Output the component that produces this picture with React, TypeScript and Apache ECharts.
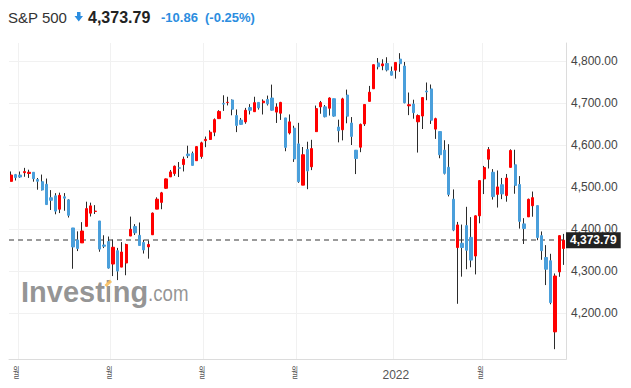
import React, { useEffect, useRef } from "react";
import * as echarts from "echarts";

const dates = [
  "2021-08-30","2021-08-31","2021-09-01","2021-09-02","2021-09-03","2021-09-07","2021-09-08","2021-09-09","2021-09-10","2021-09-13",
  "2021-09-14","2021-09-15","2021-09-16","2021-09-17","2021-09-20","2021-09-21","2021-09-22","2021-09-23","2021-09-24","2021-09-27",
  "2021-09-28","2021-09-29","2021-09-30","2021-10-01","2021-10-04","2021-10-05","2021-10-06","2021-10-07","2021-10-08","2021-10-11",
  "2021-10-12","2021-10-13","2021-10-14","2021-10-15","2021-10-18","2021-10-19","2021-10-20","2021-10-21","2021-10-22","2021-10-25",
  "2021-10-26","2021-10-27","2021-10-28","2021-10-29","2021-11-01","2021-11-02","2021-11-03","2021-11-04","2021-11-05","2021-11-08",
  "2021-11-09","2021-11-10","2021-11-11","2021-11-12","2021-11-15","2021-11-16","2021-11-17","2021-11-18","2021-11-19","2021-11-22",
  "2021-11-23","2021-11-24","2021-11-26","2021-11-29","2021-11-30","2021-12-01","2021-12-02","2021-12-03","2021-12-06","2021-12-07",
  "2021-12-08","2021-12-09","2021-12-10","2021-12-13","2021-12-14","2021-12-15","2021-12-16","2021-12-17","2021-12-20","2021-12-21",
  "2021-12-22","2021-12-23","2021-12-27","2021-12-28","2021-12-29","2021-12-30","2021-12-31","2022-01-03","2022-01-04","2022-01-05",
  "2022-01-06","2022-01-07","2022-01-10","2022-01-11","2022-01-12","2022-01-13","2022-01-14","2022-01-18","2022-01-19","2022-01-20",
  "2022-01-21","2022-01-24","2022-01-25","2022-01-26","2022-01-27","2022-01-28","2022-01-31","2022-02-01","2022-02-02","2022-02-03",
  "2022-02-04","2022-02-07","2022-02-08","2022-02-09","2022-02-10","2022-02-11","2022-02-14","2022-02-15","2022-02-16","2022-02-17",
  "2022-02-18","2022-02-22","2022-02-23","2022-02-24","2022-02-25","2022-02-28",
];

const opens = [
  4513.76,4529.75,4528.80,4534.48,4532.42,4535.38,4518.09,4513.02,4506.92,4474.81,
  4479.33,4447.49,4477.09,4469.74,4402.95,4374.45,4367.43,4406.75,4438.04,4442.12,
  4419.54,4362.41,4370.67,4317.16,4348.84,4309.87,4319.57,4383.73,4406.51,4385.44,
  4368.31,4358.01,4386.75,4447.69,4463.72,4497.34,4524.42,4532.24,4546.12,4553.69,
  4578.69,4580.22,4562.84,4572.87,4610.62,4613.34,4630.65,4662.93,4699.26,4701.48,
  4707.25,4670.26,4659.39,4655.24,4689.30,4679.42,4701.50,4700.72,4708.44,4712.00,
  4678.48,4675.78,4664.63,4628.75,4640.25,4602.82,4504.73,4589.49,4548.37,4631.97,
  4690.86,4691.00,4687.64,4710.30,4642.99,4636.46,4719.13,4652.50,4587.90,4594.96,
  4650.36,4703.96,4733.99,4795.49,4788.64,4794.23,4775.21,4778.14,4804.51,4787.99,
  4693.39,4697.66,4655.34,4669.14,4728.59,4733.56,4637.99,4632.24,4588.03,4547.35,
  4471.38,4356.32,4366.64,4408.43,4380.58,4336.19,4431.79,4519.57,4566.39,4535.41,
  4482.79,4505.75,4480.02,4547.00,4553.24,4506.27,4412.61,4429.28,4455.75,4456.06,
  4384.57,4332.74,4324.93,4155.77,4298.38,4354.17,
];

const closes = [
  4528.79,4522.68,4524.09,4536.95,4535.43,4520.03,4514.07,4493.28,4458.58,4468.73,
  4443.05,4480.70,4473.75,4432.99,4357.73,4354.19,4395.64,4448.98,4455.48,4443.11,
  4352.63,4359.46,4307.54,4357.04,4300.46,4345.72,4363.55,4399.76,4391.34,4361.19,
  4350.65,4363.80,4438.26,4471.37,4486.46,4519.63,4536.19,4549.78,4544.90,4566.48,
  4574.79,4551.68,4596.42,4605.38,4613.67,4630.65,4660.57,4680.06,4697.53,4701.70,
  4685.25,4646.71,4649.27,4682.85,4682.80,4700.90,4688.67,4704.54,4697.96,4682.94,
  4690.70,4701.46,4594.62,4655.27,4567.00,4513.04,4577.10,4538.43,4591.67,4686.75,
  4701.21,4667.45,4712.02,4668.97,4634.09,4709.85,4668.67,4620.64,4568.02,4649.23,
  4696.56,4725.79,4791.19,4786.35,4793.06,4778.73,4766.18,4796.56,4793.54,4700.58,
  4696.05,4677.03,4670.29,4713.07,4726.35,4659.03,4662.85,4577.11,4532.76,4482.73,
  4397.94,4410.13,4356.45,4349.93,4326.51,4431.85,4515.55,4546.54,4589.38,4477.44,
  4500.53,4483.87,4521.54,4587.18,4504.08,4418.64,4401.67,4471.07,4475.01,4380.26,
  4348.87,4304.76,4225.50,4288.70,4384.65,4373.79,
];

const lows = [
  4513.76,4515.80,4522.02,4524.66,4521.94,4513.00,4493.95,4492.07,4457.66,4445.70,
  4435.46,4438.37,4443.80,4427.76,4305.91,4347.96,4367.43,4406.75,4430.27,4436.19,
  4346.33,4355.08,4306.24,4288.52,4278.94,4309.87,4290.49,4383.73,4386.22,4360.59,
  4342.09,4329.92,4386.75,4447.69,4447.47,4496.41,4524.40,4526.89,4524.00,4537.36,
  4569.17,4551.66,4562.84,4567.59,4595.06,4613.34,4621.19,4662.59,4681.32,4694.39,
  4670.87,4630.86,4648.31,4650.77,4672.86,4679.42,4684.41,4672.78,4694.22,4682.17,
  4652.66,4659.89,4585.43,4625.26,4560.00,4510.27,4504.73,4495.12,4540.51,4631.97,
  4674.52,4665.98,4670.24,4667.60,4606.52,4611.22,4651.89,4600.22,4531.10,4583.16,
  4645.53,4703.96,4733.99,4780.04,4778.08,4775.33,4765.75,4758.17,4774.27,4699.44,
  4671.26,4662.74,4582.24,4638.27,4706.71,4650.29,4614.75,4568.70,4530.20,4477.95,
  4395.34,4222.62,4287.11,4304.80,4309.50,4292.46,4414.02,4483.53,4544.32,4470.39,
  4451.50,4471.47,4465.40,4547.00,4484.31,4401.41,4364.84,4429.28,4429.68,4373.81,
  4327.22,4267.11,4221.51,4114.65,4286.83,4315.12,
];

const highs = [
  4537.36,4531.39,4537.11,4545.85,4541.45,4535.38,4521.79,4529.90,4520.47,4492.99,
  4485.68,4486.87,4485.87,4471.52,4402.95,4394.87,4416.75,4465.40,4463.12,4457.30,
  4419.54,4385.57,4382.55,4375.19,4355.51,4369.23,4365.57,4429.97,4412.02,4415.88,
  4374.89,4372.87,4439.73,4475.82,4488.75,4520.40,4540.87,4551.44,4559.67,4572.62,
  4598.53,4584.57,4597.55,4608.08,4620.34,4635.15,4663.46,4683.00,4718.50,4714.92,
  4708.53,4684.85,4664.55,4688.47,4697.42,4714.95,4701.50,4708.80,4717.75,4743.83,
  4699.39,4702.87,4664.63,4672.95,4646.02,4652.94,4595.46,4608.03,4612.60,4694.04,
  4705.06,4695.26,4713.57,4710.30,4660.47,4712.60,4731.99,4666.70,4587.90,4651.14,
  4697.67,4740.74,4791.49,4807.02,4804.06,4808.93,4786.83,4796.64,4818.62,4797.70,
  4725.01,4707.95,4673.02,4714.13,4748.83,4744.13,4665.13,4632.24,4611.55,4602.11,
  4494.52,4417.35,4411.01,4453.23,4428.74,4432.72,4516.89,4550.49,4595.31,4542.88,
  4539.66,4521.86,4531.32,4590.03,4588.92,4526.33,4426.22,4472.77,4489.55,4456.06,
  4394.60,4362.12,4341.51,4294.73,4385.34,4388.84,
];

const yTicks = [4200, 4300, 4400, 4500, 4600, 4700, 4800];
const yMin = 4090.6;
const yMax = 4842.8;

const headerName = "S&P 500";
const headerPrice = "4,373.79";
const headerChange = "-10.86";
const headerPct = "(-0.25%)";
const monthLabel = "월";
const lastPrice = closes[closes.length - 1];

const FONT = "'Liberation Sans', Arial, 'Noto Sans CJK KR', sans-serif";
const UP = "#ff0000";
const DOWN = "#4a9fdb";
const WICK = "#2b2b2b";
const BLUE_TEXT = "#2b8de0";
const WM = "rgba(130,130,130,0.85)";

const isMonthStart = (i: number) =>
  i > 0 && dates[i].slice(0, 7) !== dates[i - 1].slice(0, 7);
const isYearStart = (i: number) =>
  i > 0 && dates[i].slice(0, 4) !== dates[i - 1].slice(0, 4);

const fmt = (v: number) =>
  v.toLocaleString("en-US", { minimumFractionDigits: 2, maximumFractionDigits: 2 });

const baseGraphic: any[] = [
  {
    type: "text",
    x: 8,
    y: 17,
    style: { text: headerName, font: `15px ${FONT}`, fill: "#333", verticalAlign: "middle" },
  },
  {
    type: "polygon",
    shape: {
      points: [
        [77, 12],
        [80.5, 12],
        [80.5, 16],
        [83, 16],
        [78.75, 21.5],
        [74.5, 16],
        [77, 16],
      ],
    },
    style: { fill: BLUE_TEXT },
  },
  {
    type: "text",
    x: 88,
    y: 17,
    style: { text: headerPrice, font: `bold 16px ${FONT}`, fill: "#222", verticalAlign: "middle" },
  },
  {
    type: "text",
    x: 161,
    y: 17,
    style: { text: headerChange, font: `bold 13px ${FONT}`, fill: BLUE_TEXT, verticalAlign: "middle" },
  },
  {
    type: "text",
    x: 205,
    y: 17,
    style: { text: headerPct, font: `bold 13px ${FONT}`, fill: BLUE_TEXT, verticalAlign: "middle" },
  },
  {
    type: "text",
    x: 21,
    y: 277,
    z: 0,
    style: { text: "Investing", font: `bold 29px ${FONT}`, fill: WM, verticalAlign: "top" },
  },
  {
    type: "text",
    x: 148,
    y: 282.5,
    z: 0,
    scaleX: 0.85,
    style: { text: ".com", font: `22px ${FONT}`, fill: WM, verticalAlign: "top" },
  },
  {
    type: "polygon",
    z: 1,
    shape: { points: [[104.5, 285], [110, 279.5], [112, 282], [106.5, 287]] },
    style: { fill: "rgba(250,190,90,0.9)" },
  },
];

export default function App() {
  const ref = useRef<HTMLDivElement>(null);
  useEffect(() => {
    if (!ref.current) return;
    const chart = echarts.init(ref.current, undefined, { renderer: "svg" });
    const wickData = dates.map((_, i) => [opens[i], closes[i], lows[i], highs[i]]);
    const bodyData = dates.map((_, i) => [
      opens[i],
      closes[i],
      Math.min(opens[i], closes[i]),
      Math.max(opens[i], closes[i]),
    ]);
    chart.setOption({
      animation: false,
      textStyle: { fontFamily: FONT },
      grid: { left: 9, right: 65, top: 43, bottom: 28.7, containLabel: false },
      xAxis: [
        {
          type: "category",
          data: dates,
          boundaryGap: true,
          axisLine: { show: true, lineStyle: { color: "#dcdcdc", width: 1 } },
          axisTick: { show: false },
          splitLine: {
            show: true,
            interval: (i: number) => isMonthStart(i),
            lineStyle: { color: "#f1f1f1", width: 1 },
          },
          axisLabel: {
            interval: (i: number) => isYearStart(i),
            formatter: (v: string) => v.slice(0, 4),
            margin: 10,
            fontSize: 12,
            color: "#555",
          },
        },
      ],
      yAxis: {
        type: "value",
        position: "right",
        min: yMin,
        max: yMax,
        splitNumber: 7,
        axisLine: { show: true, lineStyle: { color: "#dcdcdc", width: 1 } },
        axisTick: { show: false },
        splitLine: { show: false },
        axisLabel: {
          margin: 5,
          fontSize: 12,
          color: "#444",
          formatter: (v: number) => (yTicks.includes(Math.round(v * 100) / 100) ? fmt(v) : ""),
        },
      },
      graphic: baseGraphic,
      series: [
        {
          type: "candlestick",
          name: "wick",
          data: wickData,
          barWidth: 1,
          z: 2,
          silent: true,
          itemStyle: {
            color: WICK,
            color0: WICK,
            borderColor: WICK,
            borderColor0: WICK,
            borderWidth: 1,
          },
          markLine: {
            z: 1,
            silent: true,
            symbol: ["none", "none"],
            data: [
              ...yTicks.map((v) => ({
                yAxis: v,
                lineStyle: { color: "#f1f1f1", width: 1, type: "solid" },
                label: { show: false },
              })),
              {
                yAxis: lastPrice,
                lineStyle: { color: "#9a9a9a", width: 2, type: [5, 4] },
                label: {
                  show: true,
                  position: "end",
                  distance: 0,
                  formatter: () => fmt(lastPrice),
                  backgroundColor: "#222",
                  color: "#fff",
                  fontWeight: "bold",
                  fontSize: 12,
                  padding: [2, 4, 2, 4],
                  fontFamily: FONT,
                },
              },
            ],
          },
        },
        {
          type: "candlestick",
          name: "body",
          data: bodyData,
          barWidth: "62%",
          z: 3,
          itemStyle: {
            color: UP,
            color0: DOWN,
            borderColor: UP,
            borderColor0: DOWN,
            borderWidth: 1,
          },
        },
      ],
    });

    // month labels placed at month boundaries through the axis scale
    const c0 = chart.convertToPixel({ xAxisIndex: 0 }, 0) as number;
    const c1 = chart.convertToPixel({ xAxisIndex: 0 }, 1) as number;
    const band = c1 - c0;
    const monthTexts: any[] = [];
    dates.forEach((d, i) => {
      if (isMonthStart(i) && !isYearStart(i)) {
        const cx = (chart.convertToPixel({ xAxisIndex: 0 }, i) as number) - band / 2 - 1.5;
        monthTexts.push({
          type: "text",
          x: cx,
          y: 371.5,
          scaleX: 0.55,
          style: {
            text: monthLabel,
            font: `13px 'Noto Sans CJK KR', sans-serif`,
            fill: "#555",
            align: "center",
            verticalAlign: "middle",
          },
        });
      }
    });
    chart.setOption({ graphic: [...baseGraphic, ...monthTexts] });

    return () => chart.dispose();
  }, []);
  return (
    <div
      ref={ref}
      style={{ position: "absolute", left: 0, top: 0, width: 631, height: 388, background: "#fff" }}
    />
  );
}
